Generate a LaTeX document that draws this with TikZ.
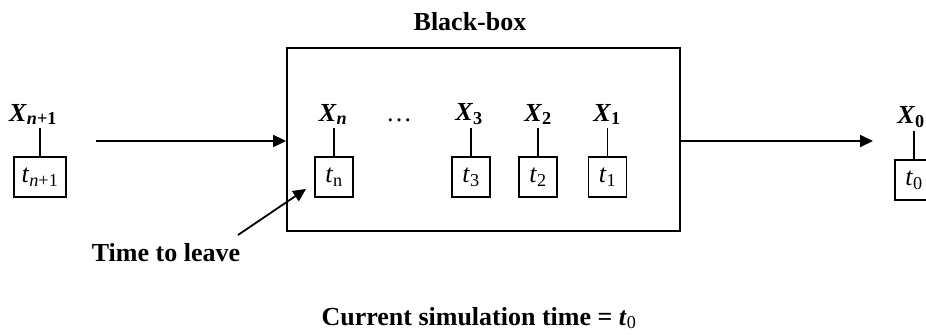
\documentclass[tikz,border=0pt]{standalone}
\usepackage{fontspec}
\setmainfont{Liberation Serif}
\usetikzlibrary{positioning,arrows.meta}
\newcommand{\bigfont}{\fontsize{26}{30}\selectfont}
\newcommand{\xlab}[1]{\textbf{\textit{X}}\textsubscript{\textbf{#1}}}
\newcommand{\tlab}[1]{\textit{t}\textsubscript{#1}}
\tikzset{
    time-box/.style = {draw, line width=1.8pt, minimum width=38pt, minimum height=40pt, inner sep=0pt, font=\bigfont},
    item-label/.style = {anchor=south, inner xsep=0pt, inner ysep=3pt, font=\bigfont},
    item-stem/.style = {line width=1.8pt},
    flow-arrow/.style = {line width=1.8pt, -{Triangle[length=13pt,width=12pt]}},
    caption-text/.style = {font=\bigfont\bfseries},
}

\begin{document}
\begin{tikzpicture}[x=1pt,y=-1pt]
\useasboundingbox (0,0) rectangle (926,335);

% the black box and its title
\node [draw, line width=1.8pt, minimum width=393pt, minimum height=183pt] (bb) at (483.5,139.5) {};
\node [caption-text] (bb-title) at (470,22) {Black-box};

% items waiting inside
\node [time-box] (tn) at (334,177) {\tlab{n}};
\node [time-box] (t3) at (471,177) {\tlab{3}};
\node [time-box] (t2) at (538,177) {\tlab{2}};
\node [time-box] (t1) at (607.5,177) {\tlab{1}};
\node [item-label] (xn) at (333,128) {\xlab{\textit{n}}};
\node [item-label] (x3) at (469,128) {\xlab{3}};
\node [item-label] (x2) at (538,128) {\xlab{2}};
\node [item-label] (x1) at (607,128) {\xlab{1}};
\node [anchor=base, font=\bigfont] (dots) at (399,121) {\dots};

% next item and last item
\node [time-box, minimum width=52pt] (tnext) at (40,177) {\tlab{\textit{n}+1}};
\node [item-label] (xnext) at (33,128) {\xlab{\textit{n}+1}};
\node [time-box] (t0) at (914,180) {\tlab{0}};
\node [item-label] (x0) at (911,131) {\xlab{0}};

\foreach \i in {n,3,2,1,next,0}
    \draw [item-stem] (t\i.north) -- (t\i.north |- x\i.south);

% flow in and out
\coordinate (in-start) at (96,141);
\coordinate (out-end) at (873,141);
\draw [flow-arrow] (in-start) -- (in-start -| bb.west);
\draw [flow-arrow] (out-end -| bb.east) -- (out-end);

\node [caption-text] (leave) at (166,253) {Time to leave};
\coordinate (leave-tail) at (238,235);
\draw [flow-arrow] (leave-tail) -- ([shift={(-8,-9)}]tn.south west);

\node [caption-text] (now) at (479,318) {Current simulation time = \textit{t}\textsubscript{\mdseries 0}};
\end{tikzpicture}
\end{document}
